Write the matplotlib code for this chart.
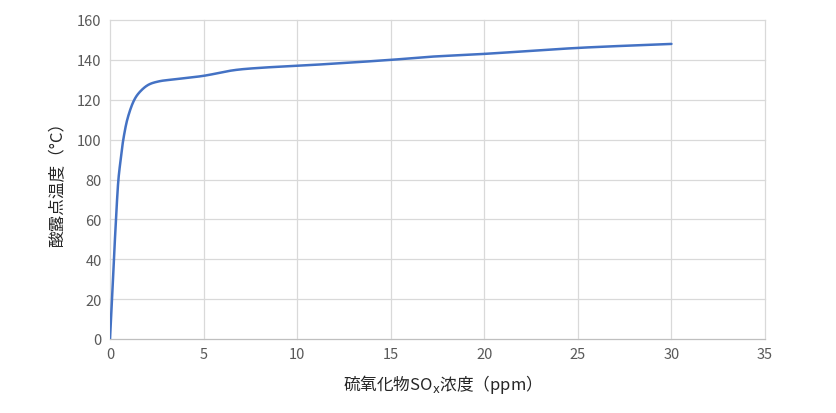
import matplotlib
matplotlib.use("Agg")
import matplotlib.pyplot as plt
import numpy as np

plt.rcParams['font.family'] = ['Noto Sans CJK JP', 'DejaVu Sans']

# SOx concentration (ppm) vs acid dew point (degC)
so_x = [0, 0.11, 0.21, 0.32, 0.45, 0.57, 0.71, 0.95, 1.3, 1.6, 2.05, 2.6, 3.5,
        5, 6.6, 8, 10, 15, 17, 20, 25, 30]
dew_pt = [0, 20, 40, 60, 80, 90, 100, 111, 120, 124, 127.5, 129.2, 130.3,
          132, 134.8, 136, 137, 140, 141.5, 143, 146, 148]

xticks = [0, 5, 10, 15, 20, 25, 30, 35]
yticks = [0, 20, 40, 60, 80, 100, 120, 140, 160]


def smooth(xs, ys, n=20):
    # centripetal catmull-rom, like excel's smoothed line
    p = np.column_stack([xs, ys]).astype(float)
    sc = np.array([18.7, 1.99])  # roughly to pixel units
    q = p * sc
    q = np.vstack([2*q[0]-q[1], q, 2*q[-1]-q[-2]])
    out = []
    for i in range(1, len(q)-2):
        p0, p1, p2, p3 = q[i-1], q[i], q[i+1], q[i+2]
        t0 = 0
        t1 = t0 + np.linalg.norm(p1-p0)**0.5
        t2 = t1 + np.linalg.norm(p2-p1)**0.5
        t3 = t2 + np.linalg.norm(p3-p2)**0.5
        t = np.linspace(t1, t2, n)[:, None]
        a1 = (t1-t)/(t1-t0)*p0 + (t-t0)/(t1-t0)*p1
        a2 = (t2-t)/(t2-t1)*p1 + (t-t1)/(t2-t1)*p2
        a3 = (t3-t)/(t3-t2)*p2 + (t-t2)/(t3-t2)*p3
        b1 = (t2-t)/(t2-t0)*a1 + (t-t0)/(t2-t0)*a2
        b2 = (t3-t)/(t3-t1)*a2 + (t-t1)/(t3-t1)*a3
        c = (t2-t)/(t2-t1)*b1 + (t-t1)/(t2-t1)*b2
        out.append(c)
    c = np.vstack(out) / sc
    return c[:, 0], c[:, 1]


fig = plt.figure(figsize=(8.36, 4.14), dpi=100)
ax = fig.add_axes([110/836, 1-340/414, (765-110)/836, (340-21)/414])

sx, sy = smooth(so_x, dew_pt)
ax.plot(sx, sy, color='#4472C4', lw=1.8, solid_capstyle='round')

ax.set_xlim(0, 35)
ax.set_ylim(0, 160)
ax.set_xticks(xticks)
ax.set_yticks(yticks)
ax.grid(True, color='#D9D9D9', lw=0.9)
for gl in ax.get_xgridlines() + ax.get_ygridlines():
    gl.set_clip_on(False)
ax.set_axisbelow(True)
for s in ['top', 'right', 'left']:
    ax.spines[s].set_visible(False)
ax.spines['bottom'].set_color('#BFBFBF')
ax.tick_params(length=0, labelsize=10.5, labelcolor='#595959', pad=6)

ax.set_xlabel('硫氧化物SO$_\\mathrm{x}$浓度（ppm）', fontsize=12, color='#262626', labelpad=8)
ax.set_ylabel('酸露点温度（°C）', fontsize=12, color='#262626', labelpad=8)

fig.savefig('out.png', dpi=100)
